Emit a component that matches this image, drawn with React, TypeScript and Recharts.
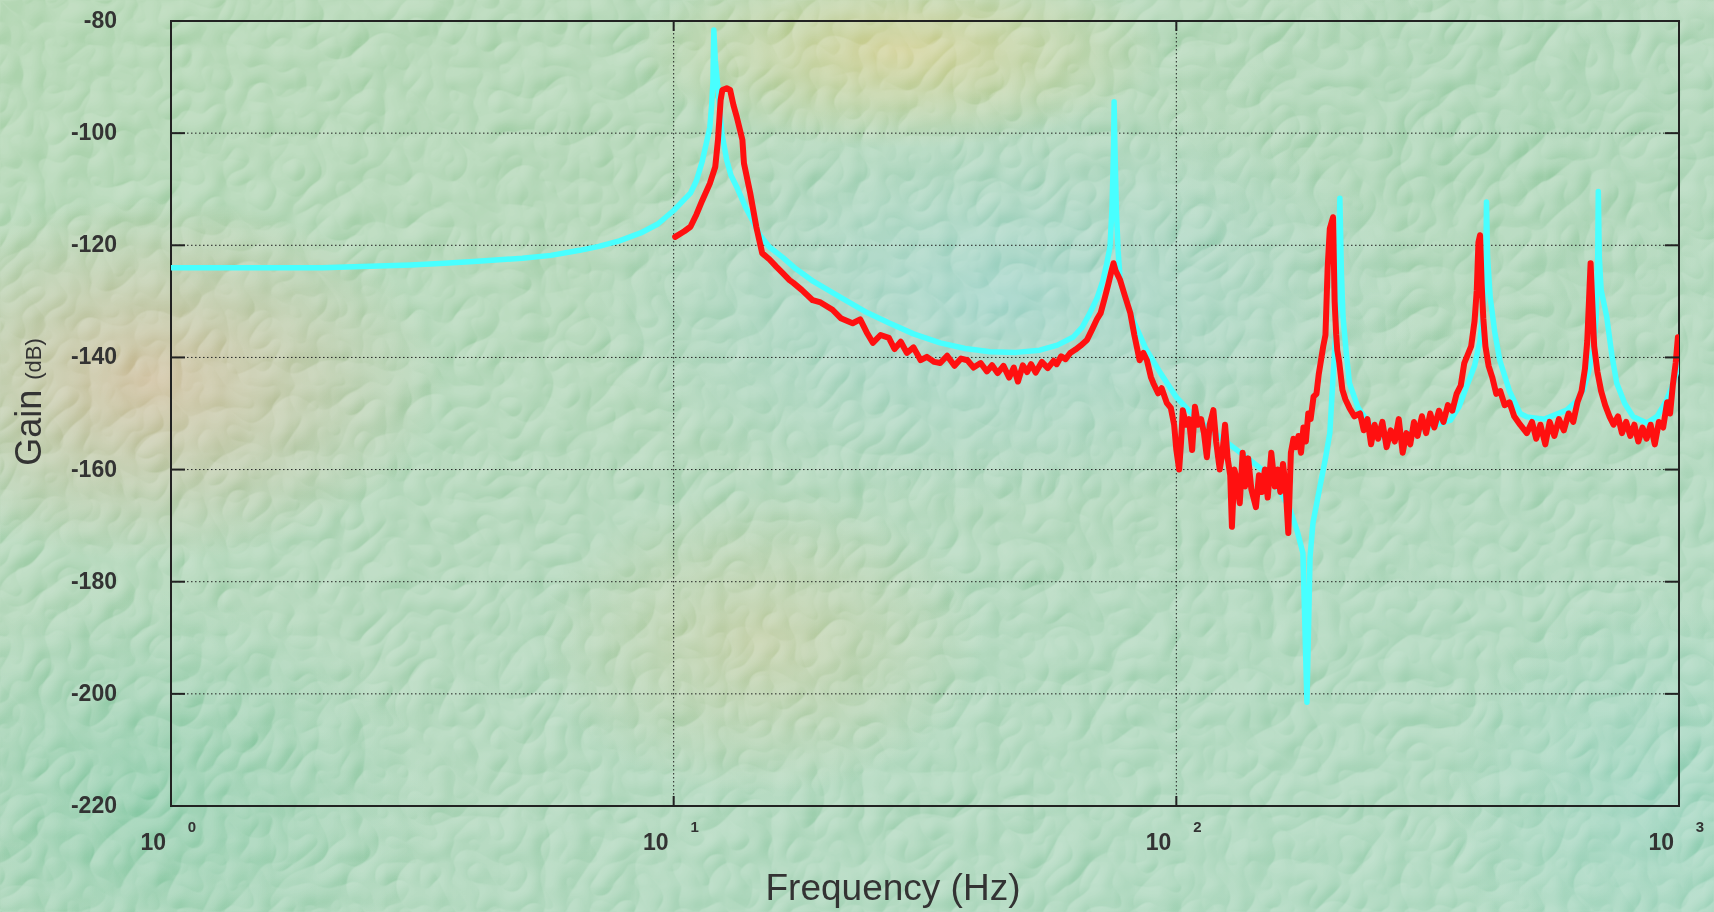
import React from "react";
import { LineChart, Line, XAxis, YAxis, CartesianGrid, ReferenceArea } from "recharts";

// model (cyan) curve: frequency in Hz, gain in dB
const modelFreq = [
  1, 1.5, 2, 2.4, 3, 3.5, 4, 4.5, 5, 5.7,
  6.5, 7.1, 7.8, 8.6, 9.3, 10, 10.4, 10.8, 11.1, 11.4,
  11.6, 11.8, 11.9, 11.97, 12.02, 12.1, 12.25, 12.47, 12.75, 13.0,
  13.35, 13.9, 14.4, 14.85, 15.5, 16.5, 17.5, 19, 21.4, 24,
  26.9, 30, 33.9, 38, 42.6, 48, 53.5, 58, 62.3, 65,
  67.3, 69.5, 71.5, 72.8, 73.8, 74.5, 75, 75.2, 75.5, 76,
  76.6, 77.3, 79.5, 82, 87, 93, 100, 108, 116.7, 129.7,
  140, 151, 160, 168.4, 174, 178.6, 181.9, 184.5, 187, 193,
  198, 202, 205, 208, 210, 211.5, 213, 214.6, 218, 221,
  230, 245, 257.7, 280, 300, 320, 351, 365, 378, 392,
  402, 409, 413, 414, 416, 421, 430, 440, 460, 483,
  498, 540, 598, 625, 645, 660, 675, 684, 689, 691,
  694, 700, 718, 735, 752, 780, 811, 863, 905, 945,
  975, 1000,
];
const modelGain = [
  -124, -124, -124, -123.8, -123.5, -123.2, -122.9, -122.6, -122.3, -121.8,
  -120.9, -120.2, -119.2, -117.8, -116.2, -113.8, -112.2, -110.7, -108.5, -105,
  -102, -99, -95, -91, -81.6, -87, -92, -100, -104.8, -107.5,
  -109.6, -113.2, -115.8, -118.2, -120.3, -122.2, -124.2, -126.5, -129.2, -131.8,
  -133.9, -135.8, -137.4, -138.4, -139, -139.1, -138.7, -137.8, -136.4, -134.6,
  -132.1, -129.5, -126.2, -123, -120.3, -113, -103, -94.4, -103, -114,
  -121, -126.2, -130, -133.3, -138.5, -142.8, -147.1, -150.3, -152.9, -156,
  -158.3, -160.6, -163.5, -167.2, -171, -174.9, -201.5, -175.6, -169.5, -163.1,
  -158, -153.5, -143.5, -134, -125, -111.6, -125, -132.8, -139.5, -144.6,
  -149, -152.5, -154.2, -154, -153, -152.4, -151.2, -148.8, -145.2, -141.5,
  -136.9, -130, -122, -112.3, -122, -129.2, -135.5, -140.5, -146, -150,
  -150.6, -151, -149.4, -147.8, -145.8, -142.8, -138.7, -133, -123, -110.4,
  -122, -128, -132.7, -139.5, -144.6, -148.2, -150.6, -151.7, -150.5, -147.6,
  -144.5, -141.2,
];

// measured (red) curve
const measFreq = [
  10.07, 10.5, 10.8, 11.1, 11.4, 11.8, 12.1, 12.25, 12.4, 12.5,
  12.75, 12.95, 13.15, 13.35, 13.7, 13.8, 14.2, 14.6, 15, 15.5,
  16, 16.5, 17, 17.3, 18, 18.9, 19.6, 20.7, 21.5, 22.7,
  23.5, 24.2, 24.9, 25.8, 26.8, 27.5, 28.3, 29.1, 30, 31,
  31.9, 33, 33.9, 35, 36.2, 37.3, 38.4, 39.5, 40.8, 42,
  43, 44.1, 45.3, 46.5, 47.5, 48.4, 49.5, 50.5, 51.4, 52.5,
  54, 55.5, 57, 57.8, 59, 60.2, 61.5, 63, 64.5, 66.4,
  68, 69.5, 70.7, 72, 73.2, 74.2, 75, 75.7, 77.3, 79,
  81, 82.5, 84.5, 86, 87.4, 89, 90, 92, 93.5, 95.7,
  97.5, 99, 100, 101.3, 102.2, 103, 104.5, 106, 107.5, 108.9,
  110.5, 112, 113.5, 115, 116.5, 118.5, 120, 122, 123.5, 125,
  126.5, 128, 129, 130.5, 132, 133.7, 135.5, 137, 139, 141,
  144, 146, 148, 150, 152, 154.5, 157, 159, 161, 163,
  165, 167, 169, 171, 173, 175, 177, 179, 181, 183,
  185, 187.5, 190, 192, 194, 196, 198, 200, 202, 205,
  206.5, 208, 209, 211, 214, 217, 221, 226, 232, 236,
  240, 244, 248, 252, 257, 262, 267, 272, 277, 282,
  287, 292, 297, 302, 308, 314, 320, 326, 333, 340,
  347, 354, 361, 368, 374, 380, 386, 392, 396, 399,
  402, 405, 408, 412, 418, 425, 433, 441, 450, 460,
  470, 483, 498, 510, 520, 530, 542, 553, 565, 577,
  590, 603, 616, 628, 640, 650, 657, 662, 667, 672,
  678, 688, 700, 713, 727, 741, 756, 770, 785, 800,
  815, 830, 846, 862, 878, 895, 912, 930, 947, 960,
  972, 985, 995,
];
const measGain = [
  -118.5, -117.5, -116.7, -114.5, -112, -109, -106, -101.2, -94.1, -92.3,
  -92, -92.3, -95, -97.1, -101.2, -105.4, -110.7, -116.7, -121.4, -122.5,
  -123.8, -125, -126.2, -126.7, -128, -129.8, -130.2, -131.5, -133, -133.9,
  -133.2, -135.5, -137.4, -136, -136.5, -138.5, -137.2, -139.2, -138.2, -140.5,
  -139.9, -140.8, -141, -139.7, -141.5, -140.2, -140.5, -141.8, -141, -142.5,
  -141.4, -142.8, -141.5, -143.6, -141.8, -144.3, -141.4, -142.6, -141.2, -142.7,
  -140.8, -141.9, -140.6, -141.2, -139.8, -140.3, -139.2, -138.6, -137.9, -136.9,
  -135, -133.2, -132.1, -129.5, -127, -124.8, -123.2, -124.5, -126.2, -129,
  -132.1, -136, -140.5, -139.2, -140.5, -143.5, -144.6, -146.4, -145.5, -148.1,
  -149, -152, -156.5, -160, -155, -149.4, -152, -151, -156.5, -148.8,
  -152, -151, -153.5, -157.8, -152, -149.4, -155, -160, -157, -152,
  -158, -161, -170.2, -160, -162, -166, -157, -163, -158, -163.5,
  -166.7, -161, -164, -160, -165, -157, -163, -160, -164, -159,
  -163, -171.3, -157, -154.5, -156, -154, -157, -152.5, -155, -150,
  -151, -147, -146.5, -143, -140.5, -138, -136, -124, -117, -115,
  -130, -136, -138.7, -141, -145.8, -147.5, -149, -150.5, -150, -153,
  -151, -155.5, -152, -154.5, -151.5, -156, -153, -155, -151, -157,
  -153.5, -155.5, -151.5, -154, -150.5, -153.5, -150, -152.5, -149.5, -151.5,
  -148.5, -149.5, -146.5, -145, -141, -139.5, -138, -133.5, -128, -119.5,
  -118.2, -127, -133, -138, -141.5, -143.5, -146.5, -146, -148.5, -148,
  -150.5, -152, -153.5, -151.5, -154.5, -152, -155.5, -151.5, -154, -151,
  -153, -150, -151.5, -148, -146, -142, -137, -130, -123.2, -130,
  -138, -142.5, -146, -148.5, -150.5, -152, -150.5, -153.5, -151.5, -154,
  -152, -155, -152.5, -154.5, -152, -155.5, -151.5, -152.5, -148, -150,
  -145, -141, -136.4,
];

const xTicks = [1, 10, 100, 1000];
const yTicks = [-220, -200, -180, -160, -140, -120, -100, -80];

const modelData = modelFreq.map((f, i) => ({ freq: f, gain: modelGain[i] }));
const measData = measFreq.map((f, i) => ({ freq: f, gain: measGain[i] }));

const W = 1714;
const H = 912;
const PLOT_LEFT = 171;
const PLOT_RIGHT = 1679;
const PLOT_TOP = 21;
const PLOT_BOTTOM = 806;
const FONT = '"Liberation Sans", Arial, Helvetica, sans-serif';
const INK = "#333";

function YTick(props: any) {
  const { y, payload } = props;
  return (
    <g>
      <text x={PLOT_LEFT - 54} y={y} dy={7} textAnchor="end" fontFamily={FONT} fontSize={23} fontWeight="bold" fill={INK}>
        {payload.value}
      </text>
      <line x1={PLOT_LEFT} x2={PLOT_LEFT + 14} y1={y} y2={y} stroke="#222" strokeWidth={2} />
      <line x1={PLOT_RIGHT - 14} x2={PLOT_RIGHT} y1={y} y2={y} stroke="#222" strokeWidth={2} />
    </g>
  );
}

function XTick(props: any) {
  const { x, payload } = props;
  const exp = Math.round(Math.log10(payload.value));
  return (
    <g>
      <text x={x - 5} y={850} textAnchor="end" fontFamily={FONT} fontSize={23} fontWeight="bold" fill={INK}>
        10
      </text>
      <text x={x + 21} y={832} textAnchor="middle" fontFamily={FONT} fontSize={15} fontWeight="bold" fill={INK}>
        {exp}
      </text>
      <line x1={x} x2={x} y1={PLOT_BOTTOM} y2={PLOT_BOTTOM - 10} stroke="#222" strokeWidth={2} />
      <line x1={x} x2={x} y1={PLOT_TOP} y2={PLOT_TOP + 10} stroke="#222" strokeWidth={2} />
    </g>
  );
}

export default function App() {
  return (
    <div
      style={{
        position: "absolute",
        left: 0,
        top: 0,
        width: W,
        height: H,
        overflow: "hidden",
        background:
          "radial-gradient(ellipse 420px 260px at 150px 380px, rgba(212,182,146,0.8), rgba(212,182,146,0) 70%)," +
          "radial-gradient(ellipse 380px 140px at 900px 50px, rgba(212,204,136,0.85), rgba(212,204,136,0) 70%)," +
          "radial-gradient(ellipse 320px 220px at 760px 640px, rgba(204,198,146,0.6), rgba(204,198,146,0) 70%)," +
          "radial-gradient(ellipse 600px 300px at 1000px 300px, rgba(152,210,204,0.75), rgba(152,210,204,0) 70%)," +
          "radial-gradient(ellipse 400px 300px at 150px 800px, rgba(130,200,164,0.8), rgba(130,200,164,0) 70%)," +
          "radial-gradient(ellipse 500px 300px at 1500px 150px, rgba(160,208,172,0.8), rgba(160,208,172,0) 70%)," +
          "radial-gradient(ellipse 300px 300px at 1650px 800px, rgba(146,208,186,0.8), rgba(146,208,186,0) 70%)," +
          "linear-gradient(160deg, #aad2aa 0%, #a8d2b2 50%, #a2d4b8 100%)",
      }}
    >
      <svg width={W} height={H} style={{ position: "absolute", left: 0, top: 0, mixBlendMode: "overlay", opacity: 0.8 }}>
        <defs>
          <filter id="paper" x="0" y="0" width="100%" height="100%">
            <feTurbulence type="turbulence" baseFrequency="0.022" numOctaves={2} seed={7} result="noise" />
            <feDiffuseLighting in="noise" lightingColor="#b8b8b8" surfaceScale={4} result="lit">
              <feDistantLight azimuth={225} elevation={45} />
            </feDiffuseLighting>
          </filter>
        </defs>
        <rect width={W} height={H} filter="url(#paper)" />
      </svg>

      <div style={{ position: "absolute", left: 0, top: 0 }}>
        <LineChart width={W} height={H} margin={{ top: PLOT_TOP, right: W - PLOT_RIGHT, bottom: 0, left: 0 }}>
          <CartesianGrid
            stroke="#222"
            strokeWidth={1}
            strokeDasharray="1.5 2.5"
            verticalValues={[10, 100]}
            horizontalValues={[-200, -180, -160, -140, -120, -100]}
          />
          <XAxis
            dataKey="freq"
            type="number"
            scale="log"
            domain={[1, 1000]}
            ticks={xTicks}
            interval={0}
            allowDataOverflow
            height={H - PLOT_BOTTOM}
            axisLine={false}
            tickLine={false}
            tick={<XTick />}
          />
          <YAxis
            dataKey="gain"
            type="number"
            domain={[-220, -80]}
            ticks={yTicks}
            interval={0}
            allowDataOverflow
            width={PLOT_LEFT}
            axisLine={false}
            tickLine={false}
            tick={<YTick />}
          />
          <Line
            data={modelData}
            dataKey="gain"
            stroke="#48ffff"
            strokeWidth={5.5}
            dot={false}
            strokeLinejoin="round"
            strokeLinecap="round"
            isAnimationActive={false}
          />
          <Line
            data={measData}
            dataKey="gain"
            stroke="#ff1010"
            strokeWidth={6}
            dot={false}
            strokeLinejoin="round"
            strokeLinecap="round"
            isAnimationActive={false}
          />
          <ReferenceArea x1={1} x2={1000} y1={-220} y2={-80} stroke="#222" strokeWidth={2} fill="none" fillOpacity={0} ifOverflow="visible" />
        </LineChart>
      </div>

      <div
        style={{
          position: "absolute",
          left: 29,
          top: 402,
          transform: "translate(-50%, -50%) rotate(-90deg)",
          whiteSpace: "nowrap",
          fontFamily: FONT,
          color: INK,
          fontSize: 36,
          lineHeight: 1,
        }}
      >
        Gain <span style={{ fontSize: 22 }}>(dB)</span>
      </div>
      <div
        style={{
          position: "absolute",
          left: 893,
          top: 887,
          transform: "translate(-50%, -50%)",
          whiteSpace: "nowrap",
          fontFamily: FONT,
          color: INK,
          fontSize: 37,
          lineHeight: 1,
        }}
      >
        Frequency (Hz)
      </div>
    </div>
  );
}
